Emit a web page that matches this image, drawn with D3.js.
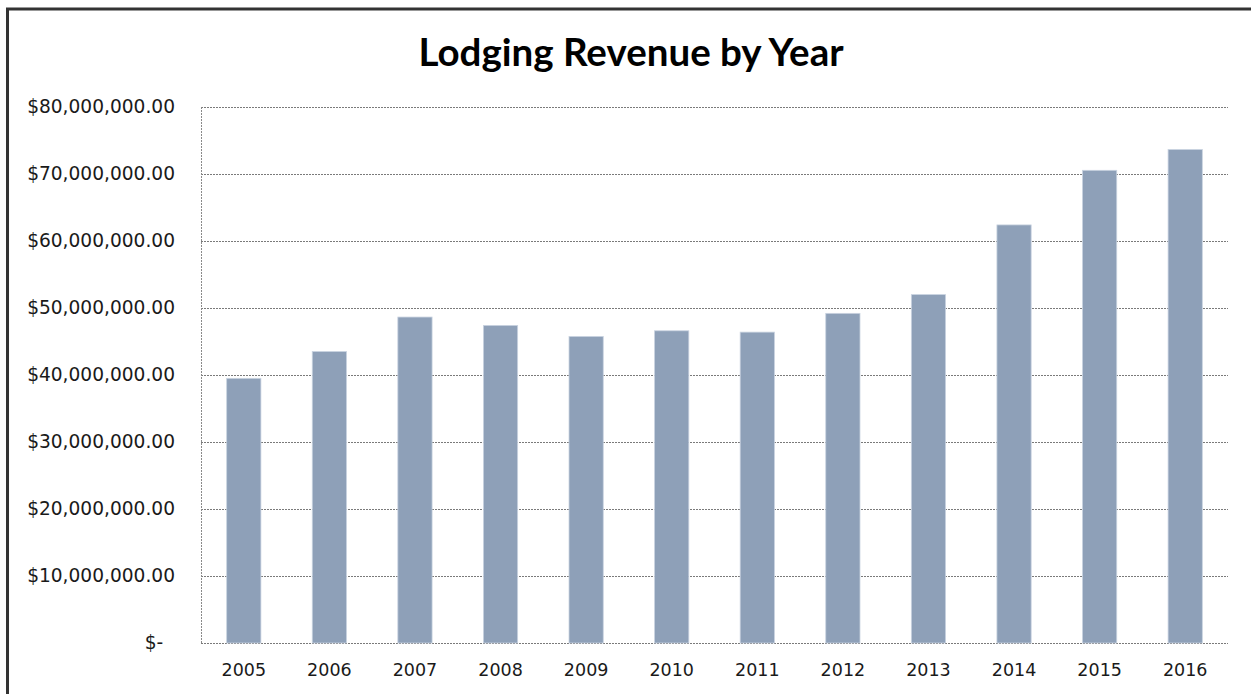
<!DOCTYPE html>
<html lang="en">
<head>
  <meta charset="UTF-8">
  <title>Lodging Revenue by Year</title>
  <script src="https://d3js.org/d3.v7.min.js"></script>
  <style>
    body { margin: 0; background: #fff; }
    .title { font-family: Lato, "Open Sans", sans-serif; font-weight: 700; font-size: 38.5px; fill: #000; text-anchor: middle; }
    .axis text { font-family: "DejaVu Sans", sans-serif; fill: #1a1a1a; }
    .grid line { stroke: #7a7a7a; stroke-dasharray: 2,1; }
  </style>
</head>
<body>
  <svg id="chart" width="1251" height="694"></svg>
  <script>
    const years = ["2005", "2006", "2007", "2008", "2009", "2010", "2011", "2012", "2013", "2014", "2015", "2016"];
    const revenue = [39500000, 43500000, 48650000, 47400000, 45750000, 46600000, 46400000, 49200000, 52000000, 62400000, 70550000, 73650000];
    const yTicks = [0, 10000000, 20000000, 30000000, 40000000, 50000000, 60000000, 70000000, 80000000];

    const svg = d3.select("#chart");
    const margin = { left: 201, right: 23, top: 107, bottom: 51 };
    const W = 1251, H = 694;

    // outer frame
    svg.append("rect")
      .attr("x", 7.5).attr("y", 9)
      .attr("width", 1260).attr("height", 700)
      .attr("fill", "none")
      .attr("stroke", "#333")
      .attr("stroke-width", 3);

    svg.append("text")
      .attr("class", "title")
      .attr("x", 631)
      .attr("y", 66)
      .text("Lodging Revenue by Year");

    const x = d3.scaleBand()
      .domain(years)
      .range([margin.left, W - margin.right])
      .paddingInner(0.6)
      .paddingOuter(0.3);

    const y = d3.scaleLinear()
      .domain([0, 80000000])
      .range([H - margin.bottom, margin.top]);

    // gridlines
    svg.append("g")
      .attr("class", "grid")
      .selectAll("line")
      .data(yTicks)
      .join("line")
      .attr("x1", margin.left)
      .attr("x2", W - margin.right)
      .attr("y1", d => Math.round(y(d)) + 0.5)
      .attr("y2", d => Math.round(y(d)) + 0.5);

    // left axis line
    svg.append("line")
      .attr("x1", margin.left + 0.5).attr("x2", margin.left + 0.5)
      .attr("y1", y(80000000)).attr("y2", y(0))
      .attr("stroke", "#8a8a8a")
      .attr("stroke-dasharray", "2,1");

    // bars
    svg.append("g")
      .selectAll("rect")
      .data(years)
      .join("rect")
      .attr("x", d => x(d))
      .attr("width", x.bandwidth())
      .attr("y", (d, i) => y(revenue[i]))
      .attr("height", (d, i) => y(0) - y(revenue[i]))
      .attr("fill", "#8ea0b8")
      .attr("stroke", "#c9d3e0")
      .attr("stroke-width", 0.8);

    const fmt = d => d === 0 ? "$-\u00a0\u00a0" : "$" + d3.format(",.2f")(d);

    const yAxis = svg.append("g")
      .attr("class", "axis")
      .attr("transform", `translate(${margin.left},0)`)
      .call(d3.axisLeft(y).tickValues(yTicks).tickFormat(fmt).tickSize(0).tickPadding(26));
    yAxis.select(".domain").remove();
    yAxis.selectAll("text").style("font-size", "18.6px");

    const xAxis = svg.append("g")
      .attr("class", "axis")
      .attr("transform", `translate(0,${H - margin.bottom})`)
      .call(d3.axisBottom(x).tickSize(0).tickPadding(21));
    xAxis.select(".domain").remove();
    xAxis.selectAll("text").style("font-size", "17.5px");
  </script>
</body>
</html>
